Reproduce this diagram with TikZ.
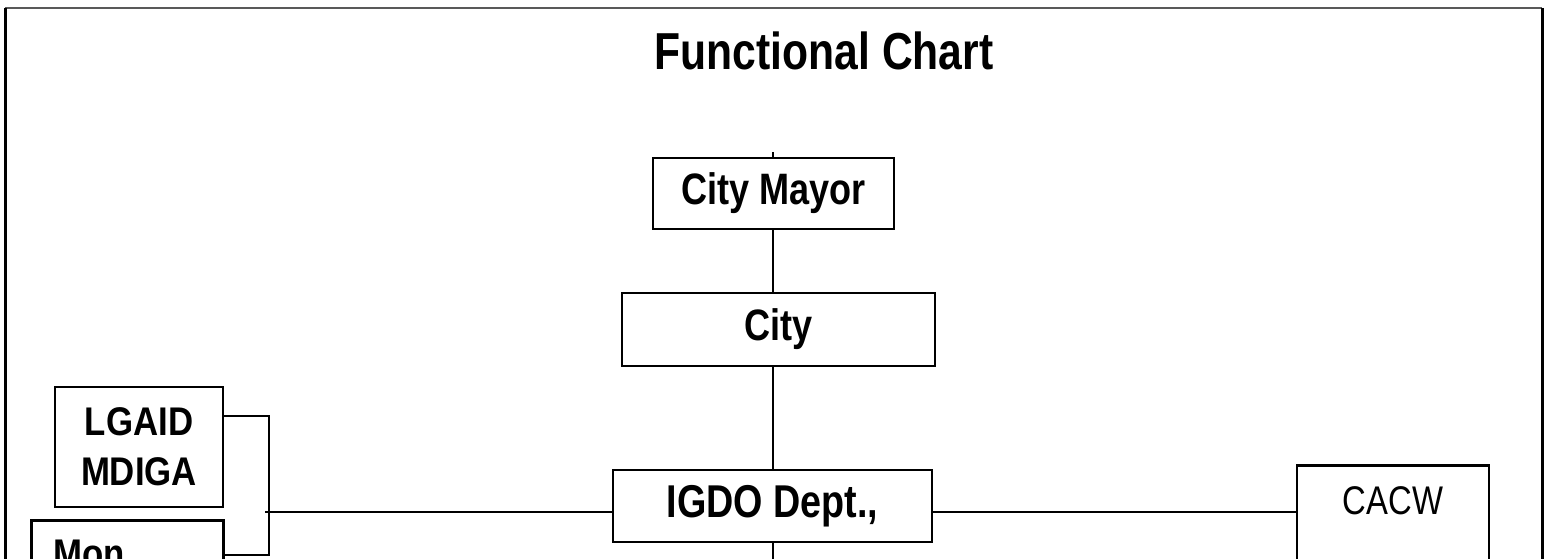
\documentclass[tikz,border=0pt]{standalone}
\usepackage{fontspec}
\setmainfont{Liberation Sans}
\newfontfamily\nsans[FakeStretch=0.82]{Liberation Sans}
\newfontfamily\msans[FakeStretch=0.87]{Liberation Sans}
\begin{document}
\begin{tikzpicture}[x=1pt,y=-1pt,
  box/.style={draw=black, line width=2.5pt, rectangle, inner sep=0pt, font=\nsans\bfseries\fontsize{44}{52}\selectfont},
  conn/.style={draw=black, line width=2pt},
  title/.style={font=\nsans\bfseries\fontsize{52}{60}\selectfont, inner sep=0pt}]
\useasboundingbox (0,0) rectangle (1552,559);
\clip (0,0) rectangle (1552,559);
\fill[white] (0,0) rectangle (1552,559);
% outer frame
\draw[gray!70!black, line width=2pt] (5,8) -- (1542,8);
\draw[black, line width=3pt] (5,8) -- (5,600);
\draw[black, line width=3pt] (1542,8) -- (1542,600);
% title
\node[title, anchor=base] (title) at (824,70) {Functional Chart};
% boxes
\node[box, minimum width=241pt, minimum height=71pt] (mayor) at (773.5,193.5) {City Mayor};
\node[box, minimum width=313pt, minimum height=73pt] (city) at (778.5,329.5) {City};
\node[box, minimum width=319pt, minimum height=72pt, font=\nsans\bfseries\fontsize{46}{54}\selectfont] (igdo) at (772.5,506) {IGDO Dept.,};
\node[box, minimum width=168pt, minimum height=120pt, align=center, font=\msans\bfseries\fontsize{40}{50}\selectfont] (lgaid) at (139,447) {LGAID\\MDIGA};
\node[box, anchor=north west, text width=148pt, inner xsep=22pt, inner ysep=0pt, align=left, text height=47pt, text depth=60pt, font=\msans\bfseries\fontsize{40}{48}\selectfont] (mon) at (30,519) {Mon};
\node[box, anchor=north, minimum width=192pt, text height=49pt, text depth=100pt, font=\nsans\fontsize{40}{48}\selectfont] (cacw) at (1393,464) {CACW};
% connector points
\coordinate (spine) at (773,0);
\coordinate (top) at (773,152);
\coordinate (bottom) at (773,580);
\coordinate (hy) at (0,512);
\coordinate (busT) at (269,416);
\coordinate (busB) at (269,555);
\coordinate (busM) at (265,512);
% connectors
\draw[conn] (top) -- (mayor.north -| spine);
\draw[conn] (mayor.south -| spine) -- (city.north -| spine);
\draw[conn] (city.south -| spine) -- (igdo.north -| spine);
\draw[conn] (igdo.south -| spine) -- (bottom);
\draw[conn] (igdo.east |- hy) -- (cacw.west |- hy);
\draw[conn] (busM) -- (igdo.west |- hy);
\draw[conn] (lgaid.east |- busT) -- (busT) -- (busB) -- (mon.east |- busB);
\end{tikzpicture}
\end{document}
